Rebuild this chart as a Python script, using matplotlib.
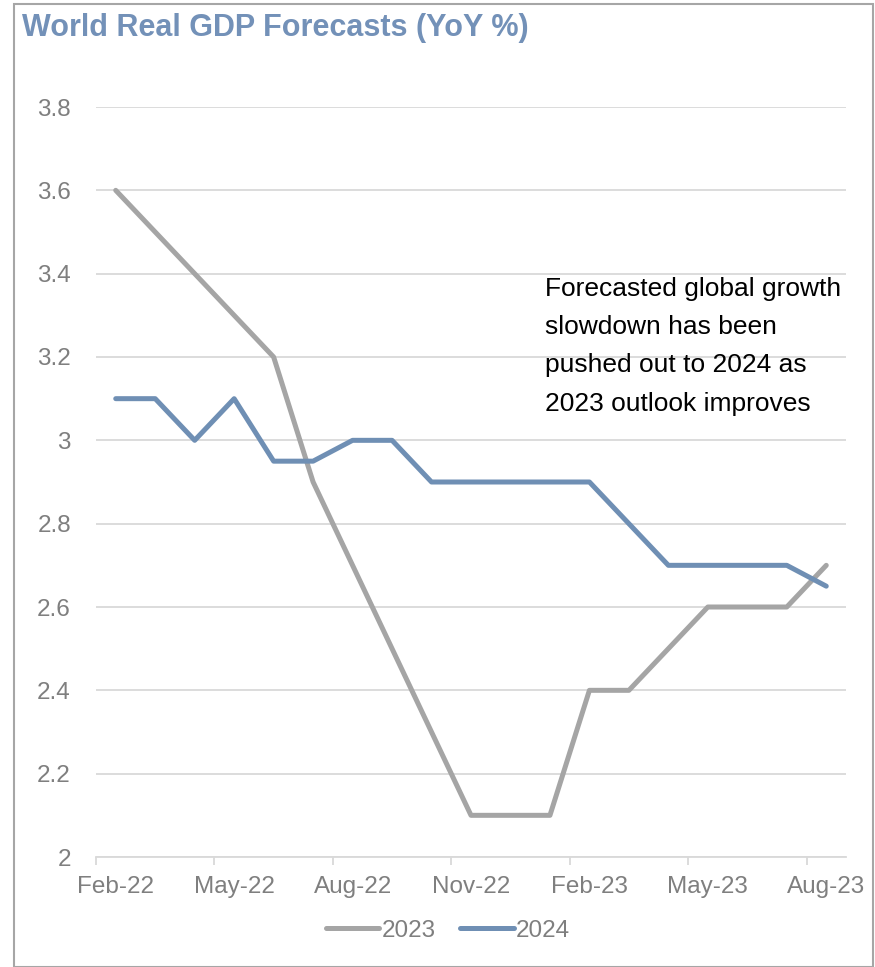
import matplotlib
matplotlib.use("Agg")
import matplotlib.pyplot as plt
from matplotlib.patches import Rectangle

# monthly forecast vintages
months = ["Feb-22", "Mar-22", "Apr-22", "May-22", "Jun-22", "Jul-22", "Aug-22",
          "Sep-22", "Oct-22", "Nov-22", "Dec-22", "Jan-23", "Feb-23", "Mar-23",
          "Apr-23", "May-23", "Jun-23", "Jul-23", "Aug-23"]
gdp_2023 = [3.6, 3.5, 3.4, 3.3, 3.2, 2.9, 2.7, 2.5, 2.3, 2.1, 2.1, 2.1, 2.4, 2.4,
            2.5, 2.6, 2.6, 2.6, 2.7]
gdp_2024 = [3.1, 3.1, 3.0, 3.1, 2.95, 2.95, 3.0, 3.0, 2.9, 2.9, 2.9, 2.9, 2.9, 2.8,
            2.7, 2.7, 2.7, 2.7, 2.65]
y_ticks = [2.0, 2.2, 2.4, 2.6, 2.8, 3.0, 3.2, 3.4, 3.6, 3.8]
y_labels = ["2", "2.2", "2.4", "2.6", "2.8", "3", "3.2", "3.4", "3.6", "3.8"]

plt.rcParams["font.family"] = ["Liberation Sans", "DejaVu Sans"]

W, H = 875, 967
fig = plt.figure(figsize=(W / 100, H / 100), dpi=100)

# outer frame
fig.patches.append(Rectangle((14 / W, 0), (873 - 14) / W, (H - 4) / H,
                             transform=fig.transFigure, fill=False,
                             edgecolor="#a6a6a6", linewidth=1.5))

ax = fig.add_axes([96 / W, 1 - 857 / H, 750 / W, 750 / H])
x = list(range(len(months)))
ax.plot(x, gdp_2023, color="#a5a5a5", linewidth=3.6, label="2023",
        solid_capstyle="round", solid_joinstyle="round")
ax.plot(x, gdp_2024, color="#6f8fb4", linewidth=3.6, label="2024",
        solid_capstyle="round", solid_joinstyle="round")

ax.set_xlim(-0.5, len(months) - 0.5)
ax.set_ylim(2.0, 3.8)
ax.set_yticks(y_ticks)
ax.set_yticklabels(y_labels)
ax.set_xticks(x[::3])
ax.set_xticklabels(months[::3])
ax.set_xticks([i - 0.5 for i in x[::3]], minor=True)
ax.tick_params(axis="x", which="major", length=0, pad=14, labelsize=17.5, labelcolor="#7f7f7f")
ax.tick_params(axis="x", which="minor", length=6, width=1.3, color="#d9d9d9")
ax.tick_params(axis="y", length=0, pad=18, labelsize=17.5, labelcolor="#7f7f7f")

ax.grid(axis="y", color="#d9d9d9", linewidth=1.3)
ax.set_axisbelow(True)
for side in ["left", "right", "top"]:
    ax.spines[side].set_visible(False)
ax.spines["bottom"].set_color("#d9d9d9")
ax.spines["bottom"].set_linewidth(1.3)

fig.text(22 / W, 1 - 13 / H, "World Real GDP Forecasts (YoY %)", fontsize=22,
         fontweight="bold", color="#7391b8", va="top", ha="left")

fig.text(545 / W, 1 - 277 / H,
         "Forecasted global growth\nslowdown has been\npushed out to 2024 as\n2023 outlook improves",
         fontsize=19, color="black", va="top", ha="left", linespacing=1.75)

fig.legend(loc="center", bbox_to_anchor=(448 / W, 1 - 931 / H), ncol=2, frameon=False,
           fontsize=17.5, labelcolor="#7f7f7f", handlelength=2.2, handletextpad=0.1,
           columnspacing=1.0)

fig.savefig("out.png", dpi=100)
